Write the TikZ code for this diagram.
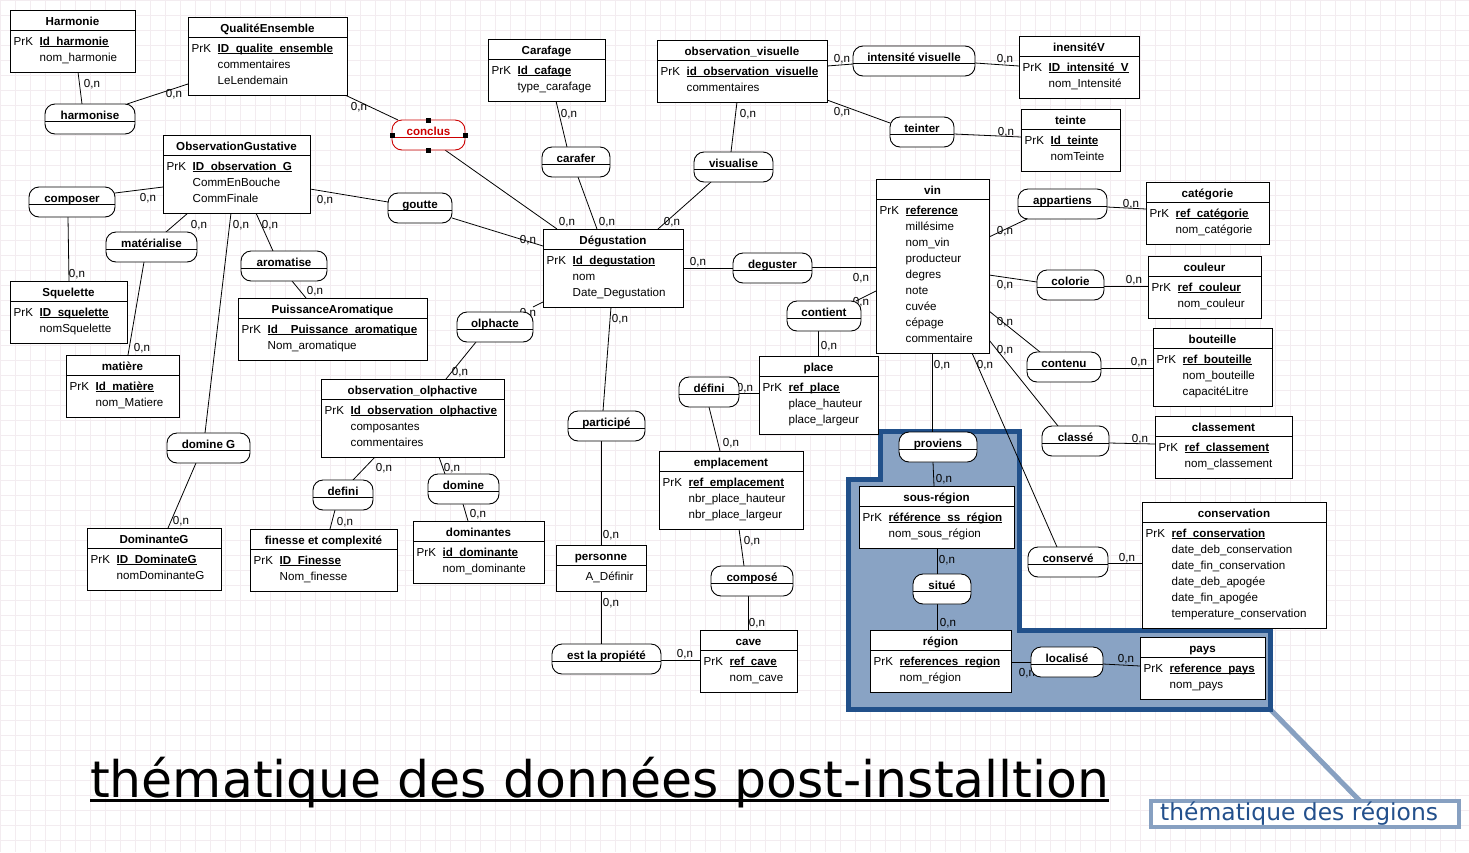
\documentclass[tikz,border=0pt]{standalone}
\usepackage{fontspec}
\setmainfont{Liberation Sans}
\newfontfamily\dejavu{DejaVu Sans}
\usetikzlibrary{fit}
\definecolor{gridc}{RGB}{243,236,240}
\definecolor{regfill}{RGB}{137,163,196}
\definecolor{regline}{RGB}{33,80,138}
\definecolor{callout}{RGB}{135,160,193}
\definecolor{regtext}{RGB}{35,80,140}
\definecolor{selred}{RGB}{204,0,0}
\pgfdeclarelayer{back}
\pgfdeclarelayer{links}
\pgfsetlayers{back,links,main}
\newcommand\fs{\fontsize{11.6}{14}\selectfont}
\newcommand\keyf[1]{\setbox0\hbox{\bfseries #1}\rlap{\rule[-2.3pt]{\wd0}{1pt}}\box0}
\newcommand\ultitle[1]{\setbox0\hbox{#1}\rlap{\rule[-4.5pt]{\wd0}{3pt}}\box0}
\tikzset{
  ebox/.style={draw, line width=0.9pt, fill=white, inner sep=0pt, outer sep=0pt},
  abox/.style={ebox, rounded corners=10pt},
  eline/.style={line width=0.9pt},
  etitle/.style={font=\fs\bfseries, anchor=base, inner sep=0pt},
  efield/.style={font=\fs, anchor=base west, inner sep=0pt},
  card/.style={font=\fs, anchor=base, inner sep=0pt},
  link/.style={line width=0.8pt},
}
% entity: name, x1, y1, x2, y2, title, key, other fields
\newcommand\ent[8]{%
  \node[ebox, fit={(#2,#3) (#4,#5)}] (#1) {};
  \draw[eline] (#2,#3+20) -- (#4,#3+20);
  \node[etitle] (#1-t) at ({(#2+#4)/2},#3+15.5) {#6};
  \node[efield] (#1-p) at (#2+3.5,#3+35) {PrK};
  \node[efield] (#1-k) at (#2+29.5,#3+35) {\keyf{#7}};
  \foreach \f [count=\i] in {#8} {\node[efield] (#1-\i) at (#2+29.5,#3+35+16*\i) {\f};}%
}
% association: name, x1, y1, x2, label
\newcommand\asc[5]{%
  \node[abox, fit={(#2,#3) (#4,#3+30)}] (#1) {};
  \draw[eline] (#2,#3+17) -- (#4,#3+17);
  \node[etitle] (#1-t) at ({(#2+#4)/2},#3+15) {#5};
}
\newcommand\card[3]{\node[card] (#1) at (#2,#3) {0,n};}
\begin{document}
\begin{tikzpicture}[x=1pt,y=-1pt]
\useasboundingbox (0,0) rectangle (1469,852);

% ---------- entities
\ent{harmonie}{10}{10}{135}{72}{Harmonie}{Id\_harmonie}{nom\_harmonie}
\ent{qe}{188}{17}{347}{95}{QualitéEnsemble}{ID\_qualite\_ensemble}{commentaires,LeLendemain}
\ent{carafage}{488}{39}{605}{101}{Carafage}{Id\_cafage}{type\_carafage}
\ent{obsvis}{657}{40}{827}{102}{observation\_visuelle}{id\_observation\_visuelle}{commentaires}
\ent{intv}{1019}{36}{1139}{98}{inensitéV}{ID\_intensité\_V}{nom\_Intensité}
\ent{teinte}{1021}{109}{1120}{171}{teinte}{Id\_teinte}{nomTeinte}
\ent{obsg}{163}{135}{310}{213}{ObservationGustative}{ID\_observation\_G}{CommEnBouche,CommFinale}
\ent{degu}{543}{229}{683}{307}{Dégustation}{Id\_degustation}{nom,Date\_Degustation}
\ent{vin}{876}{179}{989}{353}{vin}{reference}{millésime,nom\_vin,producteur,degres,note,cuvée,cépage,commentaire}
\ent{categ}{1146}{182}{1269}{244}{catégorie}{ref\_catégorie}{nom\_catégorie}
\ent{couleur}{1148}{256}{1261}{318}{couleur}{ref\_couleur}{nom\_couleur}
\ent{bouteille}{1153}{328}{1272}{406}{bouteille}{ref\_bouteille}{nom\_bouteille,capacitéLitre}
\ent{classement}{1155}{416}{1292}{478}{classement}{ref\_classement}{nom\_classement}
\ent{conservation}{1142}{502}{1326}{628}{conservation}{ref\_conservation}{date\_deb\_conservation,date\_fin\_conservation,date\_deb\_apogée,date\_fin\_apogée,temperature\_conservation}
\ent{squelette}{10}{281}{127}{343}{Squelette}{ID\_squelette}{nomSquelette}
\ent{matiere}{66}{355}{179}{417}{matière}{Id\_matière}{nom\_Matiere}
\ent{puiss}{238}{298}{427}{360}{PuissanceAromatique}{Id\_\_Puissance\_aromatique}{Nom\_aromatique}
\ent{obsolf}{321}{379}{504}{457}{observation\_olphactive}{Id\_observation\_olphactive}{composantes,commentaires}
\ent{domg}{87}{528}{221}{590}{DominanteG}{ID\_DominateG}{nomDominanteG}
\ent{finesse}{250}{529}{397}{591}{finesse et complexité}{ID\_Finesse}{Nom\_finesse}
\ent{dominantes}{413}{521}{544}{583}{dominantes}{id\_dominante}{nom\_dominante}
\ent{place}{759}{356}{878}{434}{place}{ref\_place}{place\_hauteur,place\_largeur}
\ent{emplacement}{659}{451}{803}{529}{emplacement}{ref\_emplacement}{nbr\_place\_hauteur,nbr\_place\_largeur}
\ent{cave}{700}{630}{797}{692}{cave}{ref\_cave}{nom\_cave}
\ent{ssreg}{859}{486}{1014}{548}{sous-région}{référence\_ss\_région}{nom\_sous\_région}
\ent{region}{870}{630}{1011}{692}{région}{references\_region}{nom\_région}
\ent{pays}{1140}{637}{1265}{699}{pays}{reference\_pays}{nom\_pays}
% personne (no key)
\node[ebox, fit={(556,545) (646,591)}] (personne) {};
\draw[eline] (556,565) -- (646,565);
\node[etitle] (personne-t) at (601,560.5) {personne};
\node[efield] (personne-1) at (585.5,580) {A\_Définir};

% ---------- associations
\asc{harmonise}{45}{104}{135}{harmonise}
\asc{composer}{29}{187}{115}{composer}
\asc{goutte}{388}{193}{452}{goutte}
\asc{materialise}{106}{232}{197}{matérialise}
\asc{aromatise}{241}{251}{327}{aromatise}
\asc{carafer}{542}{147}{610}{carafer}
\asc{visualise}{694}{152}{773}{visualise}
\asc{intvis}{853}{46}{975}{intensité visuelle}
\asc{teinter}{890}{117}{954}{teinter}
\asc{deguster}{733}{253}{812}{deguster}
\asc{contient}{787}{301}{861}{contient}
\asc{olphacte}{457}{312}{533}{olphacte}
\asc{appartiens}{1018}{189}{1107}{appartiens}
\asc{colorie}{1037}{270}{1104}{colorie}
\asc{contenu}{1027}{352}{1101}{contenu}
\asc{classe}{1042}{426}{1109}{classé}
\asc{conserve}{1028}{547}{1108}{conservé}
\asc{definiP}{679}{377}{739}{défini}
\asc{participe}{568}{411}{645}{participé}
\asc{proviens}{899}{432}{977}{proviens}
\asc{situe}{913}{574}{971}{situé}
\asc{localise}{1031}{647}{1103}{localisé}
\asc{compose}{711}{566}{793}{composé}
\asc{propiete}{552}{644}{661}{est la propiété}
\asc{domineG}{167}{433}{250}{domine G}
\asc{definiO}{313}{480}{373}{defini}
\asc{domine}{428}{474}{499}{domine}
% conclus (selected, red)
\node[abox, draw=selred, fit={(392,120) (465,150)}] (conclus) {};
\draw[eline, selred] (392,137) -- (465,137);
\node[etitle, text=selred] (conclus-t) at (428.5,135) {conclus};
\foreach \a in {north,south,east,west} \fill[shift={(conclus.\a)}] (-2.5,-2.5) rectangle (2.5,2.5);

% ---------- titles
\node[font=\dejavu\fontsize{50.45}{60}\selectfont, anchor=base west, inner sep=0pt] (title) at (90,797) {\ultitle{thématique des données post-installtion}};
\node[draw=callout, line width=4.5pt, fill=white, inner sep=0pt, outer sep=0pt, fit={(1151,801) (1459,827)}] (regnote) {};
\node[font=\dejavu\fontsize{23.4}{28}\selectfont, text=regtext, anchor=base west, inner sep=0pt] (regtxt) at (1160,820) {thématique des régions};
\coordinate (pcorner) at (1270,709);

% ---------- background, grid, region
\begin{pgfonlayer}{back}
  \fill[white] (0,0) rectangle (1469,852);
  \foreach \x in {0,15,...,1469} \draw[gridc, line width=0.8pt] (\x,0) -- (\x,852);
  \foreach \y in {0,15,...,852} \draw[gridc, line width=0.8pt] (0,\y) -- (1469,\y);
  \draw[callout, line width=5pt] (pcorner) -- (regnote.north -| 1360,0);
  \draw[regline, line width=5pt, fill=regfill, line join=miter]
    (880.5,431) -- (1019,431) -- (1019,630.5) -- (1270,630.5) -- (pcorner)
    -- (848.5,709) -- (848.5,479) -- (880.5,479) -- cycle;
\end{pgfonlayer}

% ---------- connectors and cardinalities
\begin{pgfonlayer}{links}
\draw[link] (harmonie.south -| 78,0) -- (harmonise.north -| 82,0);
\draw[link] (qe.west |- 0,84) -- (harmonise.north -| 127,0);
\draw[link] (qe.south -| 345,0) -- (conclus.north -| 398,0);
\draw[link] (conclus.south -| 445,0) -- (degu.north -| 557,0);
\draw[link] (obsg.west |- 0,187) -- (composer.east |- 0,193);
\draw[link] (composer.south -| 68,0) -- (squelette.north -| 69,0);
\draw[link] (obsg.south -| 188,0) -- (materialise.north -| 166,0);
\draw[link] (materialise.south -| 144,0) -- (matiere.north -| 128,0);
\draw[link] (obsg.south -| 231,0) -- (domineG.north -| 205,0);
\draw[link] (domineG.south -| 196,0) -- (domg.north -| 168,0);
\draw[link] (obsg.south -| 256,0) -- (aromatise.north -| 273,0);
\draw[link] (aromatise.south -| 292,0) -- (puiss.north -| 306,0);
\draw[link] (obsg.east |- 0,189) -- (goutte.west |- 0,202);
\draw[link] (goutte.east |- 0,218) -- (degu.west |- 0,246);
\draw[link] (carafage.south -| 556,0) -- (carafer.north -| 567,0);
\draw[link] (carafer.south -| 578,0) -- (degu.north -| 597,0);
\draw[link] (obsvis.south -| 737,0) -- (visualise.north -| 731,0);
\draw[link] (visualise.south -| 711,0) -- (degu.north -| 658,0);
\draw[link] (obsvis.east |- 0,66) -- (intvis.west |- 0,64);
\draw[link] (intvis.east |- 0,63) -- (intv.west |- 0,66);
\draw[link] (obsvis.east |- 0,100) -- (teinter.west |- 0,123);
\draw[link] (teinter.east |- 0,134) -- (teinte.west |- 0,137);
\draw[link] (degu.east |- 0,268) -- (deguster.west |- 0,268);
\draw[link] (deguster.east |- 0,267) -- (vin.west |- 0,267);
\draw[link] (vin.west |- 0,291) -- (contient.north -| 856,0);
\draw[link] (contient.south -| 818,0) -- (place.north -| 818,0);
\draw[link] (degu.west |- 0,302) -- (olphacte.east |- 0,307);
\draw[link] (olphacte.south -| 476,0) -- (obsolf.north -| 446,0);
\draw[link] (degu.south -| 611,0) -- (participe.north -| 603,0);
\draw[link] (participe.south -| 601,0) -- (personne.north -| 601,0);
\draw[link] (personne.south -| 601,0) -- (propiete.north -| 601,0);
\draw[link] (propiete.east |- 0,660) -- (cave.west |- 0,660);
\draw[link] (place.west |- 0,393) -- (definiP.east |- 0,393);
\draw[link] (definiP.south -| 709,0) -- (emplacement.north -| 720,0);
\draw[link] (emplacement.south -| 739,0) -- (compose.north -| 744,0);
\draw[link] (compose.south -| 748,0) -- (cave.north -| 748,0);
\draw[link] (obsolf.south -| 375,0) -- (definiO.north -| 353,0);
\draw[link] (definiO.south -| 335,0) -- (finesse.north -| 330,0);
\draw[link] (obsolf.south -| 439,0) -- (domine.north -| 445,0);
\draw[link] (domine.south -| 463,0) -- (dominantes.north -| 468,0);
\draw[link] (vin.east |- 0,237) -- (appartiens.south -| 1027,0);
\draw[link] (appartiens.east |- 0,207) -- (categ.west |- 0,209);
\draw[link] (vin.east |- 0,275) -- (colorie.west |- 0,282);
\draw[link] (colorie.east |- 0,286) -- (couleur.west |- 0,286);
\draw[link] (vin.east |- 0,311) -- (contenu.north -| 1040,0);
\draw[link] (contenu.east |- 0,368) -- (bouteille.west |- 0,368);
\draw[link] (vin.east |- 0,340) -- (classe.north -| 1058,0);
\draw[link] (classe.east |- 0,443) -- (classement.west |- 0,444);
\draw[link] (vin.south -| 972,0) -- (conserve.north -| 1057,0);
\draw[link] (conserve.east |- 0,563) -- (conservation.west |- 0,563);
\draw[link] (vin.south -| 932,0) -- (proviens.north -| 932,0);
\draw[link] (proviens.south -| 933,0) -- (ssreg.north -| 934,0);
\draw[link] (ssreg.south -| 937,0) -- (situe.north -| 937,0);
\draw[link] (situe.south -| 937,0) -- (region.north -| 937,0);
\draw[link] (region.east |- 0,662) -- (localise.west |- 0,662);
\draw[link] (localise.east |- 0,664) -- (pays.west |- 0,666);

\card{k1}{92}{87}   \card{k2}{174}{97}  \card{k3}{359}{110} \card{k4}{567}{225}
\card{k5}{148}{201} \card{k6}{77}{277}  \card{k7}{199}{228} \card{k8}{142}{351}
\card{k9}{241}{228} \card{k10}{181}{524} \card{k11}{270}{228} \card{k12}{315}{294}
\card{k13}{325}{203} \card{k14}{528}{243} \card{k15}{569}{117} \card{k16}{607}{225}
\card{k17}{748}{117} \card{k18}{672}{225} \card{k19}{842}{62} \card{k20}{1005}{62}
\card{k21}{842}{115} \card{k22}{1006}{135} \card{k23}{698}{265} \card{k24}{861}{281}
\card{k25}{861}{305} \card{k26}{829}{349} \card{k27}{528}{316} \card{k28}{460}{375}
\card{k29}{620}{322} \card{k30}{611}{538} \card{k31}{611}{606} \card{k32}{685}{657}
\card{k33}{745}{391} \card{k34}{731}{446} \card{k35}{752}{544} \card{k36}{757}{626}
\card{k37}{384}{471} \card{k38}{345}{525} \card{k39}{452}{471} \card{k40}{478}{517}
\card{k41}{1005}{234} \card{k42}{1131}{207} \card{k43}{1005}{288} \card{k44}{1134}{283}
\card{k45}{1005}{325} \card{k46}{1139}{365} \card{k47}{1005}{353} \card{k48}{1140}{442}
\card{k49}{985}{368} \card{k50}{1127}{561} \card{k51}{942}{368} \card{k52}{944}{482}
\card{k53}{947}{563} \card{k54}{948}{626} \card{k55}{1027}{676} \card{k56}{1126}{662}
\end{pgfonlayer}
\end{tikzpicture}
\end{document}
